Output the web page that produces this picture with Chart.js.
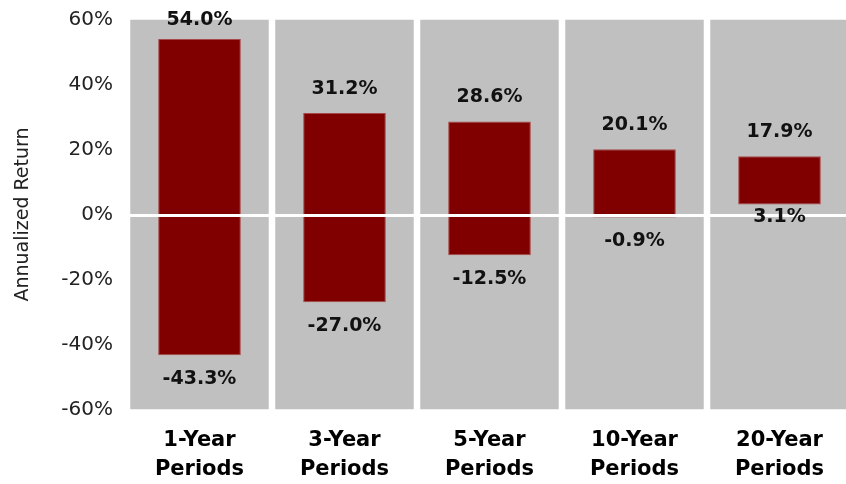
<!DOCTYPE html>
<html>
<head>
<meta charset="utf-8">
<script src="https://cdn.jsdelivr.net/npm/chart.js@4"></script>
<style>
  body { margin: 0; overflow: hidden; background: #fff; }
  #wrap { width: 852px; height: 484px; }
</style>
</head>
<body>
<div id="wrap"><canvas id="chart"></canvas></div>
<script>
const periods = ['1-Year', '3-Year', '5-Year', '10-Year', '20-Year']
const highs = [54.0, 31.2, 28.6, 20.1, 17.9]
const lows = [-43.3, -27.0, -12.5, -0.9, 3.1]
const yTicks = [-60, -40, -20, 0, 20, 40, 60]

// gray column behind each period, full axis range
const columns = periods.map(() => [yTicks[0], yTicks[yTicks.length - 1]])
const ranges = periods.map((p, i) => [lows[i], highs[i]])

const FONT = '"DejaVu Sans", Verdana, sans-serif'

const zeroLineAndLabels = {
  id: 'zeroLineAndLabels',
  afterDatasetsDraw(chart) {
    const {ctx, chartArea, scales} = chart
    const y0 = scales.y.getPixelForValue(0)
    ctx.save()
    ctx.fillStyle = '#fff'
    ctx.fillRect(chartArea.left, y0 - 0.5, chartArea.right - chartArea.left, 3)

    ctx.fillStyle = '#111'
    ctx.font = 'bold 19px ' + FONT
    ctx.textAlign = 'center'
    ctx.textBaseline = 'middle'
    chart.getDatasetMeta(1).data.forEach((bar, i) => {
      const top = Math.min(bar.y, bar.base)
      const bottom = Math.max(bar.y, bar.base)
      ctx.fillText(highs[i].toFixed(1) + '%', bar.x, Math.max(top - 24, 20))
      // labels below a bar that ends above zero sit on the zero line
      const below = lows[i] > 0 ? Math.max(bottom + 10, y0 + 3) : bottom + 24
      ctx.fillText(lows[i].toFixed(1) + '%', bar.x, below)
    })
    ctx.restore()
  }
}

new Chart(document.getElementById('chart'), {
  type: 'bar',
  data: {
    labels: periods.map(p => [p, 'Periods']),
    datasets: [
      {data: columns, backgroundColor: '#c0c0c0', grouped: false, order: 2,
       barPercentage: 1, categoryPercentage: 0.955},
      {data: ranges, backgroundColor: '#800000', borderColor: '#a84848',
       borderWidth: 1, borderSkipped: false, grouped: false, order: 1,
       barPercentage: 0.57, categoryPercentage: 1}
    ]
  },
  options: {
    responsive: true,
    maintainAspectRatio: false,
    animation: false,
    layout: {padding: {top: 19.5, left: 0, right: 0, bottom: 0}},
    plugins: {legend: {display: false}, tooltip: {enabled: false}},
    scales: {
      x: {
        grid: {display: false},
        border: {display: false},
        ticks: {
          color: '#000',
          padding: 9,
          maxRotation: 0,
          font: {family: FONT, size: 21, weight: 'bold', lineHeight: 1.38}
        },
        afterFit(s) { s.height = 74.5 }
      },
      y: {
        min: -60, max: 60,
        grid: {display: false},
        border: {display: false},
        afterBuildTicks(s) { s.ticks = yTicks.map(v => ({value: v})) },
        ticks: {
          color: '#222',
          padding: 6,
          font: {family: FONT, size: 20},
          callback: v => v + '%'
        },
        title: {
          display: true,
          text: 'Annualized Return',
          color: '#222',
          padding: {top: 12, bottom: 0},
          font: {family: FONT, size: 19}
        },
        afterFit(s) { s.width = 127 }
      }
    }
  },
  plugins: [zeroLineAndLabels]
})
</script>
</body>
</html>
